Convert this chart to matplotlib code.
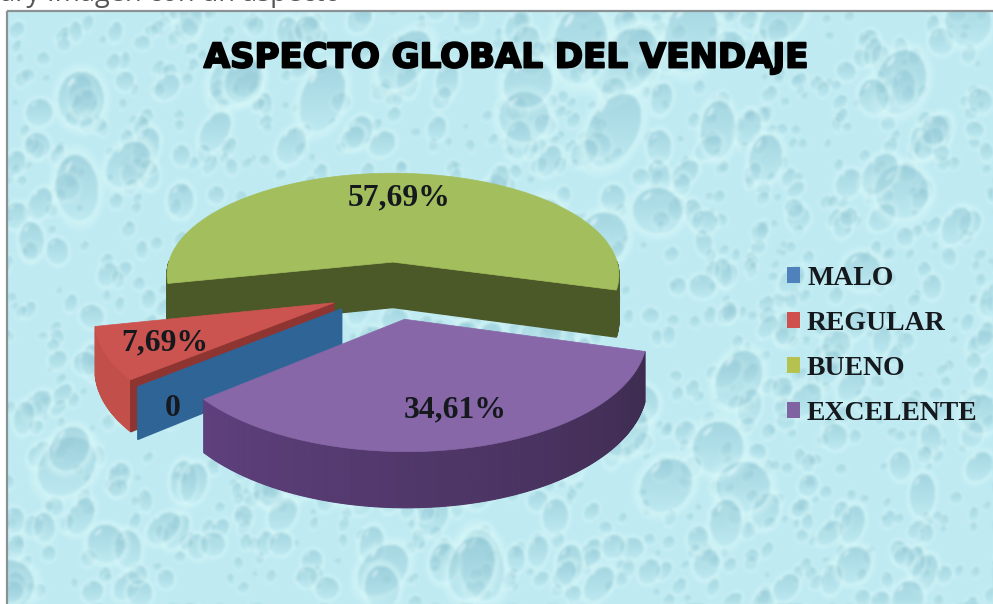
#!/usr/bin/env python3
# -*- coding: utf-8 -*-
import numpy as np
import matplotlib
matplotlib.use('Agg')
import matplotlib.pyplot as plt
import matplotlib.patheffects as pe
from matplotlib.patches import Patch, Polygon, Rectangle

# DATA

categories = ['MALO', 'REGULAR', 'BUENO', 'EXCELENTE']
values = [0, 7.69, 57.69, 34.61]
title = 'ASPECTO GLOBAL DEL VENDAJE'
caption = 'ary Imagen con un aspecto'

# STYLE

top_colors = ['#2F6497', '#CB5450', '#A3BE5C', '#8767A8']
wall_colors = ['#2F6497', '#C24E4A', '#4B5828', '#5A3F78']
cut_colors = ['#2F6497', '#8E3532', '#4B5828', '#3E2C50']
legend_colors = ['#4F81BD', '#D0504D', '#B5C24F', '#8064A2']
label_pos = [(173, 408), (165, 343), (399, 198), (455, 410)]

W, H = 993, 604
CX, CY = 391, 290
RX, RY = 232, 107
K = 0.129
DEPTH = 47
EXPLODE = 0.27
FIRST_ANGLE = 219.7


# WATER DROPS BACKGROUND

def blur(img, sigma):
    fy = np.fft.fftfreq(img.shape[0])[:, None]
    fx = np.fft.rfftfreq(img.shape[1])[None, :]
    g = np.exp(-2 * (np.pi * sigma) ** 2 * (fx ** 2 + fy ** 2))
    out = np.empty_like(img)
    for c in range(img.shape[2]):
        out[..., c] = np.fft.irfft2(np.fft.rfft2(img[..., c]) * g, s=img.shape[:2])
    return out


def add_drop(img, cx, cy, rx, ry, rot):
    pad = 1.5 * max(rx, ry)
    x0, x1 = int(max(cx - pad, 0)), int(min(cx + pad, W))
    y0, y1 = int(max(cy - pad, 0)), int(min(cy + pad, H))
    if x1 <= x0 or y1 <= y0:
        return
    yy, xx = np.mgrid[y0:y1, x0:x1]
    dx, dy = xx - cx, yy - cy
    u = (dx * np.cos(rot) + dy * np.sin(rot)) / rx
    v = (-dx * np.sin(rot) + dy * np.cos(rot)) / ry
    r = np.hypot(u, v)
    # light halo round the drop
    halo = np.clip((1.4 - r) / 0.4, 0, 1) * (r >= 1)
    patch = img[y0:y1, x0:x1]
    patch += (np.array([0.86, 0.98, 0.98]) - patch) * (0.65 * halo)[..., None]
    # body, dark at the top and fading towards the bottom
    body = r < 1
    shade = np.clip(0.80 - 0.75 * (dy / ry + 1) / 2, 0, 1) * body
    patch += (np.array([0.58, 0.79, 0.84]) - patch) * (0.8 * shade)[..., None]
    # small white glint top left
    hu, hv = dx / rx + 0.42, dy / ry + 0.62
    glint = (hu * 0.7 + hv * 0.7) ** 2 / 0.006 + (hu * 0.7 - hv * 0.7) ** 2 / 0.05 < 1
    patch[glint & body] = patch[glint & body] * 0.4 + 0.6 * np.array([0.93, 0.99, 1.0])


def make_background():
    rng = np.random.RandomState(7)
    img = np.ones((H, W, 3)) * np.array([0.75, 0.92, 0.95])
    for n, lo, hi in [(1100, 3, 7), (300, 7, 13), (60, 13, 27)]:
        for _ in range(n):
            rx = rng.uniform(lo, hi)
            add_drop(img, rng.uniform(0, W), rng.uniform(0, H), rx,
                     rx * rng.uniform(0.9, 1.7), rng.uniform(-0.2, 0.9))
    return np.clip(blur(img, 1.4), 0, 1)


# 3D PIE GEOMETRY

def project(x, z, drop=0.0):
    s = 1 / (1 + K * z)
    return CX + RX * x * s, CY - RY * z * s + DEPTH * drop * s


def slice_angles():
    total = sum(values)
    angles = [FIRST_ANGLE]
    for v in values:
        angles.append(angles[-1] - 360 * v / total)
    return angles


def apex(start, stop):
    mid = np.radians((start + stop) / 2)
    return EXPLODE * np.cos(mid), EXPLODE * np.sin(mid)


def rim(start, stop, ox, oz, drop=0.0):
    n = max(int(abs(start - stop)), 2)
    t = np.radians(np.linspace(start, stop, n))
    return np.array(project(ox + np.cos(t), oz + np.sin(t), drop)).T


def cut_wall(angle, ox, oz):
    t = np.radians(angle)
    ex, ez = ox + np.cos(t), oz + np.sin(t)
    return [project(ox, oz), project(ex, ez), project(ex, ez, 1), project(ox, oz, 1)]


def draw_rim_wall(ax, start, stop, ox, oz, c0, c1, zorder):
    # curved outer wall as thin quads, only the part facing the viewer
    t = np.linspace(start, stop, max(int(abs(start - stop)) * 2, 2))
    t = t[np.sin(np.radians(t)) <= 0.01]
    c0, c1 = np.array(c0), np.array(c1)
    for a, b, f in zip(t[:-1], t[1:], np.linspace(0, 1, max(len(t) - 1, 1))):
        ra, rb = np.radians(a), np.radians(b)
        ax_, az_ = ox + np.cos(ra), oz + np.sin(ra)
        bx_, bz_ = ox + np.cos(rb), oz + np.sin(rb)
        col = c0 + (c1 - c0) * f
        ax.add_patch(Polygon([project(ax_, az_), project(bx_, bz_),
                              project(bx_, bz_, 1), project(ax_, az_, 1)],
                             fc=col, ec=col, lw=0.8, zorder=zorder))


def draw_top(ax, start, stop, ox, oz, color, zorder):
    pts = [project(ox, oz)] + [tuple(p) for p in rim(start, stop, ox, oz)]
    ax.add_patch(Polygon(pts, fc=color, ec=color, lw=0.5, zorder=zorder))


# FIGURE

fig = plt.figure(figsize=(W / 100, H / 100), dpi=100, facecolor='white')
ax = fig.add_axes([0, 0, 1, 1])
ax.set_xlim(0, W)
ax.set_ylim(H, 0)
ax.axis('off')

ax.text(0, 0.5, caption, fontsize=19.5, family='Open Sans', color='#555555',
        va='baseline', ha='left', zorder=1)

# chart frame filled with the drops
bg = make_background()[12:, 8:]
ax.imshow(bg, extent=(8, W, H, 12), aspect='auto', zorder=2, interpolation='bilinear')
ax.set_xlim(0, W)
ax.set_ylim(H, 0)
ax.add_patch(Rectangle((7, 11), W, H, fc='none', ec='#8A9296', lw=1.6, zorder=3))

angles = slice_angles()
blue = (angles[0], angles[1])
red = (angles[1], angles[2])
green = (angles[2], angles[3])
purple = (angles[3], angles[4])

# BUENO goes first, it sits at the back
ox, oz = apex(*green)
ax.add_patch(Polygon(cut_wall(green[0], ox, oz), fc=cut_colors[2], ec=cut_colors[2], zorder=4))
ax.add_patch(Polygon(cut_wall(green[1], ox, oz), fc=cut_colors[2], ec=cut_colors[2], zorder=4))
draw_rim_wall(ax, green[0], green[0] - 14, ox, oz, (0.29, 0.35, 0.16), (0.29, 0.35, 0.16), 4)
draw_rim_wall(ax, green[1] + 16, green[1], ox, oz, (0.29, 0.35, 0.16), (0.29, 0.35, 0.16), 4)
draw_top(ax, green[0], green[1], ox, oz, top_colors[2], 5)

# REGULAR and the empty MALO slice
ox, oz = apex(*red)
draw_rim_wall(ax, red[0], red[1], ox, oz, (0.76, 0.31, 0.29), (0.76, 0.31, 0.29), 6)
ax.add_patch(Polygon(cut_wall(red[0], ox, oz), fc=cut_colors[1], ec=cut_colors[1], zorder=6))
draw_top(ax, red[0], red[1], ox, oz, top_colors[1], 7)
ox, oz = apex(*blue)
ax.add_patch(Polygon(cut_wall(blue[0], ox, oz), fc=top_colors[0], ec=top_colors[0], zorder=8))

# EXCELENTE in front, outer wall darkens to the right
ox, oz = apex(*purple)
draw_rim_wall(ax, purple[0], purple[1], ox, oz, (0.24, 0.17, 0.31), (0.37, 0.25, 0.49), 9)
draw_top(ax, purple[0], purple[1], ox, oz, top_colors[3], 10)

# value labels
for v, (lx, ly) in zip(values, label_pos):
    txt = f'{v:.2f}%'.replace('.', ',') if v else '0'
    ax.text(lx, ly, txt, fontsize=22.8, family='Liberation Serif', fontweight='bold',
            color='#15191E', ha='center', va='center', zorder=12)

ax.text(506, 58, title, fontsize=24.5, family='DejaVu Sans', fontweight='bold',
        color='black', ha='center', va='center', zorder=12,
        path_effects=[pe.withStroke(linewidth=1.4, foreground='black')])

handles = [Patch(fc=c, ec='none', label=n) for c, n in zip(legend_colors, categories)]
leg = ax.legend(handles=handles, loc='center left', bbox_to_anchor=(787 / W, 1 - 346 / H),
                frameon=False, handlelength=0.47, handleheight=0.47, handletextpad=0.25,
                labelspacing=0.72, borderpad=0, borderaxespad=0,
                prop={'family': 'Liberation Serif', 'weight': 'bold', 'size': 20})
leg.set_zorder(12)
for t in leg.get_texts():
    t.set_color('#15191E')

fig.savefig('out.png', dpi=100)
